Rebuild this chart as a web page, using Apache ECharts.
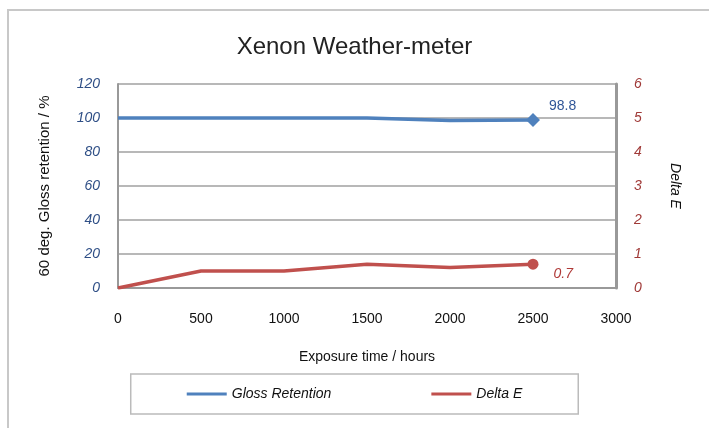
<!DOCTYPE html>
<html><head><meta charset="utf-8">
<script src="https://cdn.jsdelivr.net/npm/echarts@6/dist/echarts.min.js"></script>
<style>html,body{margin:0;padding:0;background:#fff}#c{width:709px;height:428px}</style>
</head><body><div id="c"></div>
<script>
const hours = [0, 500, 1000, 1500, 2000, 2500];
const glossRetention = [100, 100, 100, 100, 98.6, 98.8];
const deltaE = [0, 0.5, 0.5, 0.7, 0.6, 0.7];
const xTicks = [0, 500, 1000, 1500, 2000, 2500, 3000];
const leftTicks = [0, 20, 40, 60, 80, 100, 120];
const rightTicks = [0, 1, 2, 3, 4, 5, 6];

const FONT = '"Liberation Sans", Arial, sans-serif';
const chart = echarts.init(document.getElementById('c'));
const last = hours.length - 1;
chart.setOption({
  animation: false,
  graphic: [{type:'rect', shape:{x:8, y:10, width:720, height:440}, style:{fill:'none', stroke:'#c8c8c8', lineWidth:2}, silent:true}],
  title: {text:'Xenon Weather-meter', left:'center', top:30, textStyle:{fontFamily:FONT, fontWeight:'normal', fontSize:24, color:'#222'}},
  grid: {left:118, right:93, top:84, bottom:140},
  legend: {
    bottom:14, left:'center', itemWidth:40, itemHeight:3, itemGap:100,
    padding:[13,56,13,56], borderColor:'#bbb', borderWidth:1.5,
    icon:'rect',
    textStyle:{fontFamily:FONT, fontStyle:'italic', fontSize:14, color:'#111'},
    data:['Gloss Retention','Delta E']
  },
  xAxis: {
    type:'value', min:xTicks[0], max:xTicks[xTicks.length-1], interval:500,
    name:'Exposure time / hours', nameLocation:'middle', nameGap:62,
    nameTextStyle:{fontFamily:FONT, fontSize:14, color:'#111'},
    axisLine:{lineStyle:{color:'#999', width:2}}, axisTick:{show:false},
    axisLabel:{fontFamily:FONT, fontSize:14, color:'#111', margin:24, formatter:v=>String(v)},
    splitLine:{show:false}
  },
  yAxis: [{
    type:'value', min:leftTicks[0], max:leftTicks[leftTicks.length-1], interval:20,
    name:'60 deg. Gloss retention / %', nameLocation:'middle', nameGap:66, nameRotate:90,
    nameTextStyle:{fontFamily:FONT, fontSize:15, color:'#111'},
    axisLine:{show:true, lineStyle:{color:'#999', width:2}}, axisTick:{show:false},
    axisLabel:{fontFamily:FONT, fontStyle:'italic', fontSize:14, color:'#2f4f86', margin:18},
    splitLine:{lineStyle:{color:'#a0a0a0', width:1.5}}
  },{
    type:'value', min:rightTicks[0], max:rightTicks[rightTicks.length-1], interval:1,
    name:'Delta E', nameLocation:'middle', nameGap:52, nameRotate:-90,
    nameTextStyle:{fontFamily:FONT, fontStyle:'italic', fontSize:14, color:'#111'},
    axisLine:{show:true, lineStyle:{color:'#999', width:3}}, axisTick:{show:false},
    axisLabel:{fontFamily:FONT, fontStyle:'italic', fontSize:14, color:'#a03a38', margin:18},
    splitLine:{show:false}
  }],
  series: [{
    name:'Gloss Retention', type:'line', yAxisIndex:0,
    data: hours.map((h,i)=>[h, glossRetention[i]]),
    lineStyle:{color:'#4f81bd', width:3.5}, itemStyle:{color:'#4f81bd'},
    symbol:'diamond', symbolSize:(v,p)=> p.dataIndex===last ? 14 : 0,
    showAllSymbol:true,
    label:{show:true, formatter:p=> p.dataIndex===last ? String(glossRetention[last]) : '', position:'right', offset:[4,-14], fontFamily:FONT, fontSize:14, color:'#2f5597'}
  },{
    name:'Delta E', type:'line', yAxisIndex:1,
    data: hours.map((h,i)=>[h, deltaE[i]]),
    lineStyle:{color:'#c0504d', width:3.5}, itemStyle:{color:'#c0504d'},
    symbol:'circle', symbolSize:(v,p)=> p.dataIndex===last ? 11 : 0,
    showAllSymbol:true,
    label:{show:true, formatter:p=> p.dataIndex===last ? String(deltaE[last]) : '', position:'right', offset:[10,10], fontFamily:FONT, fontStyle:'italic', fontSize:14, color:'#b03a38'}
  }]
});
</script></body></html>
